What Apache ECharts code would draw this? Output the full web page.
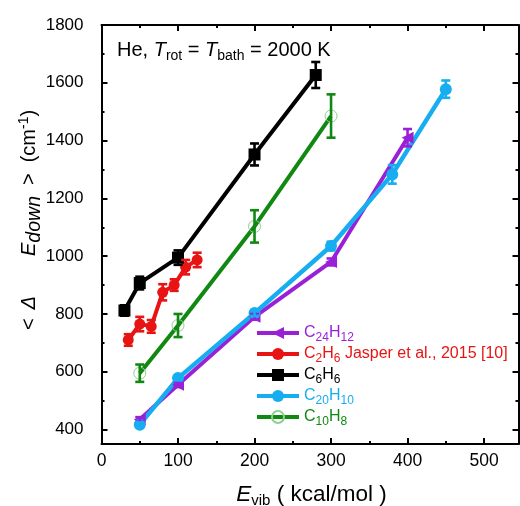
<!DOCTYPE html>
<html><head><meta charset="utf-8">
<script src="https://cdn.jsdelivr.net/npm/echarts@6/dist/echarts.min.js"></script>
<style>html,body{margin:0;padding:0;background:#fff}#c{width:520px;height:506px}</style>
</head><body><div id="c"></div>
<script>
// ---- data ----
const xMajor = [0, 100, 200, 300, 400, 500];
const xMinor = [50, 150, 250, 350, 450];
const yMajor = [400, 600, 800, 1000, 1200, 1400, 1600, 1800];
const yMinor = [500, 700, 900, 1100, 1300, 1500, 1700];

const c24h12X = [50, 100, 200, 300, 400];
const c24h12Y = [435, 555, 790, 980, 1410];
const c24h12E = [8, 8, 10, 12, 30];

const c2h6X = [35, 50, 65, 80, 95, 110, 125];
const c2h6Y = [710, 765, 757, 875, 900, 962, 987];
const c2h6E = [20, 25, 22, 28, 20, 25, 25];

const c6h6X = [30, 50, 100, 200, 280];
const c6h6Y = [812, 907, 995, 1352, 1627];
const c6h6E = [18, 22, 25, 38, 45];

const c20h10X = [50, 100, 200, 300, 380, 450];
const c20h10Y = [417, 578, 803, 1035, 1283, 1578];
const c20h10E = [8, 8, 10, 15, 32, 30];

const c10h8X = [50, 100, 200, 300];
const c10h8Y = [595, 760, 1103, 1485];
const c10h8E = [30, 40, 56, 75];

// ---- style ----
const FONT = 'Liberation Sans';
const COL = {p: '#9a20d8', r: '#e81414', k: '#000000', b: '#16aef0', g: '#118811'};
const X_MIN = 0, X_MAX = 545, Y_MIN = 350, Y_MAX = 1800;

function zip(xs, ys) { return xs.map((x, i) => [x, ys[i]]); }

function errSeries(name, xs, ys, es, color) {
  return {
    type: 'custom', name: name + '_err', silent: true, z: 3,
    data: xs.map((x, i) => [x, ys[i] - es[i], ys[i] + es[i]]),
    encode: {x: 0, y: [1, 2]},
    renderItem: function (params, api) {
      const lo = api.coord([api.value(0), api.value(1)]);
      const hi = api.coord([api.value(0), api.value(2)]);
      const w = 4.5;
      const st = {stroke: color, lineWidth: 2.6};
      return {type: 'group', children: [
        {type: 'line', shape: {x1: lo[0], y1: lo[1], x2: hi[0], y2: hi[1]}, style: st},
        {type: 'line', shape: {x1: lo[0] - w, y1: lo[1], x2: lo[0] + w, y2: lo[1]}, style: st},
        {type: 'line', shape: {x1: hi[0] - w, y1: hi[1], x2: hi[0] + w, y2: hi[1]}, style: st}
      ]};
    }
  };
}

function lineSeries(name, xs, ys, color, symbol, size, width, extra) {
  return Object.assign({
    type: 'line', name: name, data: zip(xs, ys), symbol: symbol, symbolSize: size,
    lineStyle: {color: color, width: width}, itemStyle: {color: color}, z: 2, animation: false
  }, extra || {});
}

function xAx(pos, ticks, len, labels) {
  return {
    type: 'value', position: pos, min: X_MIN, max: X_MAX,
    axisLine: {show: len > 4, onZero: false, lineStyle: {color: '#000', width: 2}},
    axisTick: {show: true, inside: true, length: len, customValues: ticks, lineStyle: {color: '#000', width: 2}},
    axisLabel: labels ? {show: true, customValues: xMajor, margin: 8, color: '#000', fontSize: 17.5, fontFamily: FONT, formatter: v => String(v)} : {show: false},
    splitLine: {show: false}
  };
}
function yAx(pos, ticks, len, labels) {
  return {
    type: 'value', position: pos, min: Y_MIN, max: Y_MAX,
    axisLine: {show: len > 4, onZero: false, lineStyle: {color: '#000', width: 2}},
    axisTick: {show: true, inside: true, length: len, customValues: ticks, lineStyle: {color: '#000', width: 2}},
    axisLabel: labels ? {show: true, customValues: yMajor, margin: 18, color: '#000', fontSize: 17, fontFamily: FONT, formatter: v => String(v)} : {show: false},
    splitLine: {show: false}
  };
}

const legendNames = {
  'C24H12': '{p|C}{ps|24}{p|H}{ps|12}',
  'C2H6': '{r|C}{rs|2}{r|H}{rs|6}{r| Jasper et al., 2015 [10]}',
  'C6H6': '{k|C}{ks|6}{k|H}{ks|6}',
  'C20H10': '{b|C}{bs|20}{b|H}{bs|10}',
  'C10H8': '{g|C}{gs|10}{g|H}{gs|8}'
};
const rich = {};
Object.keys(COL).forEach(k => {
  rich[k] = {color: COL[k], fontSize: 16, fontFamily: FONT};
  rich[k + 's'] = {color: COL[k], fontSize: 12, fontFamily: FONT, padding: [10, 0, 0, 0]};
});

const chart = echarts.init(document.getElementById('c'), null, {renderer: 'canvas'});
chart.setOption({
  animation: false,
  backgroundColor: '#fff',
  grid: {left: 101.5, top: 25, width: 417, height: 419, containLabel: false, outerBoundsMode: 'none'},
  xAxis: [xAx('bottom', xMajor, 6, true), xAx('bottom', xMinor, 3, false), xAx('top', xMajor, 6, false), xAx('top', xMinor, 3, false)],
  yAxis: [yAx('left', yMajor, 6, true), yAx('left', yMinor, 3, false), yAx('right', yMajor, 6, false), yAx('right', yMinor, 3, false)],
  legend: {
    orient: 'vertical', left: 255, top: 325, padding: 0, itemWidth: 42, itemHeight: 15, itemGap: 2,
    data: ['C24H12', 'C2H6', 'C6H6', 'C20H10', 'C10H8'],
    formatter: n => legendNames[n],
    textStyle: {rich: rich, fontSize: 16, fontFamily: FONT},
    lineStyle: {width: 4},
    selectedMode: false
  },
  series: [
    lineSeries('C24H12', c24h12X, c24h12Y, COL.p, 'triangle', 12, 4, {symbolRotate: 90}),
    errSeries('C24H12', c24h12X, c24h12Y, c24h12E, COL.p),
    lineSeries('C2H6', c2h6X, c2h6Y, COL.r, 'circle', 11, 4),
    errSeries('C2H6', c2h6X, c2h6Y, c2h6E, COL.r),
    lineSeries('C6H6', c6h6X, c6h6Y, COL.k, 'rect', 12, 4),
    errSeries('C6H6', c6h6X, c6h6Y, c6h6E, COL.k),
    lineSeries('C20H10', c20h10X, c20h10Y, COL.b, 'circle', 12, 4.5),
    errSeries('C20H10', c20h10X, c20h10Y, c20h10E, COL.b),
    lineSeries('C10H8', c10h8X, c10h8Y, COL.g, 'circle', 12, 4,
      {itemStyle: {color: 'rgba(255,255,255,0)', borderColor: '#8fcf8f', borderWidth: 1}}),
    errSeries('C10H8', c10h8X, c10h8Y, c10h8E, COL.g)
  ],
  graphic: [
    {type: 'text', x: 117, y: 50, style: {
      text: 'He, {it|T}{sub|rot} = {it|T}{sub|bath} = 2000 K',
      fontSize: 20, fontFamily: FONT, fill: '#000', align: 'left', verticalAlign: 'middle',
      rich: {it: {fontSize: 20, fontStyle: 'italic', fontFamily: FONT}, sub: {fontSize: 14, fontFamily: FONT, padding: [12, 0, 0, 0]}}
    }},
    {type: 'text', x: 29, y: 220, rotation: Math.PI / 2, style: {
      text: '<{g1|}{it|Δ}{g2|}{it|E}{sub|down}{g3|}>{g4|}(cm{sup|-1})',
      fontSize: 20, fontFamily: FONT, fill: '#000', align: 'center', verticalAlign: 'middle',
      rich: {it: {fontSize: 20, fontStyle: 'italic', fontFamily: FONT},
        g1: {width: 9}, g2: {width: 40}, g3: {width: 11}, g4: {width: 11},
        sub: {fontSize: 19.5, fontStyle: 'italic', fontFamily: FONT, padding: [12, 0, 0, 0]},
        sup: {fontSize: 14, fontFamily: FONT, padding: [0, 0, 10, 0]}}
    }},
    {type: 'text', x: 311.5, y: 495, style: {
      text: '{it|E}{sub|vib} ( kcal/mol )',
      fontSize: 22.5, fontFamily: FONT, fill: '#000', align: 'center', verticalAlign: 'middle',
      rich: {it: {fontSize: 22.5, fontStyle: 'italic', fontFamily: FONT}, sub: {fontSize: 15, fontFamily: FONT, padding: [12, 0, 0, 0]}}
    }}
  ]
});
</script>
</body></html>
